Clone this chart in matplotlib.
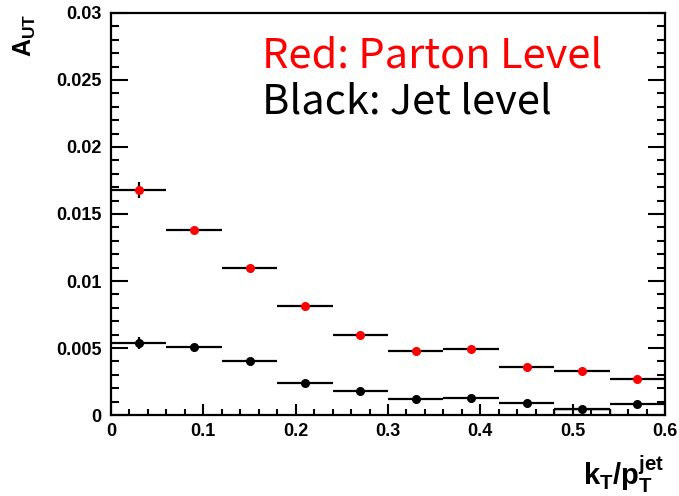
import matplotlib
matplotlib.use("Agg")
from matplotlib import pyplot as plt
from matplotlib.ticker import MultipleLocator

# bin centres of kT/pT(jet), 0.06 wide
bin_centres = [0.03, 0.09, 0.15, 0.21, 0.27, 0.33, 0.39, 0.45, 0.51, 0.57]
bin_halfwidth = [0.03] * 10

# A_UT values
parton = [0.0168, 0.0138, 0.0110, 0.0081, 0.0060, 0.0048, 0.0049, 0.0036, 0.0033, 0.0027]
parton_err = [0.0006, 0.0002, 0.0002, 0.0002, 0.0002, 0.0002, 0.0002, 0.0002, 0.0002, 0.0002]
jet = [0.0054, 0.0051, 0.0040, 0.0024, 0.0018, 0.0012, 0.0013, 0.0009, 0.00045, 0.0008]
jet_err = [0.00045, 0.0002, 0.0002, 0.0002, 0.0002, 0.0002, 0.0002, 0.0002, 0.0002, 0.0002]

plt.rcParams['mathtext.fontset'] = 'custom'
plt.rcParams['mathtext.bf'] = 'Liberation Sans:bold'
plt.rcParams['mathtext.rm'] = 'Liberation Sans:bold'
plt.rcParams['mathtext.it'] = 'Liberation Sans:bold'

fig = plt.figure(figsize=(6.79, 4.96), dpi=100)
ax = fig.add_axes([0.1635, 0.1633, 0.8159, 0.8105])

# little empty box ROOT left behind in the 0.48-0.54 bin
ax.bar(bin_centres[8], jet[8], width=2 * bin_halfwidth[8], fill=False,
       edgecolor='black', linewidth=1.0, zorder=1)

ax.errorbar(bin_centres, jet, xerr=bin_halfwidth, yerr=jet_err, fmt='o',
            color='black', ecolor='black', ms=5.5, elinewidth=1.6,
            capsize=0, zorder=3)
ax.errorbar(bin_centres, parton, xerr=bin_halfwidth, yerr=parton_err, fmt='o',
            color='red', ecolor='black', ms=5.5, elinewidth=1.6,
            capsize=0, zorder=4)

ax.set_xlim(0, 0.6)
ax.set_ylim(0, 0.03)
ax.xaxis.set_major_locator(MultipleLocator(0.1))
ax.xaxis.set_minor_locator(MultipleLocator(0.02))
ax.yaxis.set_major_locator(MultipleLocator(0.005))
ax.yaxis.set_minor_locator(MultipleLocator(0.001))
ax.set_xticks([0, 0.1, 0.2, 0.3, 0.4, 0.5, 0.6])
ax.set_xticklabels(['0', '0.1', '0.2', '0.3', '0.4', '0.5', '0.6'])
ax.set_yticks([0, 0.005, 0.01, 0.015, 0.02, 0.025, 0.03])
ax.set_yticklabels(['0', '0.005', '0.01', '0.015', '0.02', '0.025', '0.03'])

for s in ax.spines.values():
    s.set_linewidth(1.6)

ax.tick_params(axis='x', which='major', direction='in', length=8, width=1.5,
               pad=6, labelsize=13)
ax.tick_params(axis='x', which='minor', direction='in', length=4, width=1.5)
ax.tick_params(axis='y', which='major', direction='in', length=12.5, width=1.5,
               pad=7, labelsize=13, right=True)
ax.tick_params(axis='y', which='minor', direction='in', length=6, width=1.5,
               right=True)
for lab in ax.get_xticklabels() + ax.get_yticklabels():
    lab.set_fontfamily('Liberation Sans')
    lab.set_fontweight('bold')

# axis titles, ROOT style
fig.text(0.036, 0.972, r'$\mathbf{A_{UT}}$', rotation=90, ha='center',
         va='top', fontsize=18)
fig.text(0.979, 0.022, r'$\mathbf{k_{T}/p_{T}^{jet}}$', ha='right',
         va='baseline', fontsize=21)

fig.text(0.386, 0.863, 'Red: Parton Level', color='red', fontsize=30,
         family=['Noto Sans CJK SC', 'DejaVu Sans'], va='baseline')
fig.text(0.386, 0.772, 'Black: Jet level', color='black', fontsize=30,
         family=['Noto Sans CJK SC', 'DejaVu Sans'], va='baseline')

fig.savefig('out.png', dpi=100)
